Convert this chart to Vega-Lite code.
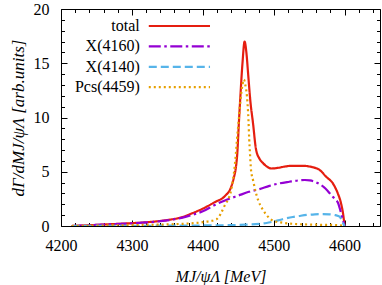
{
  "$schema": "https://vega.github.io/schema/vega-lite/v6.json",
  "width": 319,
  "height": 217,
  "autosize": {"type": "none"},
  "padding": {"left": 61, "top": 9, "right": 2, "bottom": 59},
  "background": "white",
  "config": {
    "view": {"stroke": null},
    "font": "Liberation Serif",
    "axis": {"labelFont": "Liberation Serif", "titleFont": "Liberation Serif", "labelColor": "black", "titleColor": "black", "tickColor": "black", "domainColor": "black", "grid": false, "labelFlush": false, "labelOverlap": false}
  },
  "datasets": {
    "curves": [
      {"series": "total", "m": 4215, "v": 0},
      {"series": "total", "m": 4230, "v": 0.04},
      {"series": "total", "m": 4250, "v": 0.1},
      {"series": "total", "m": 4275, "v": 0.18},
      {"series": "total", "m": 4300, "v": 0.26},
      {"series": "total", "m": 4325, "v": 0.37},
      {"series": "total", "m": 4350, "v": 0.55},
      {"series": "total", "m": 4370, "v": 0.8},
      {"series": "total", "m": 4386, "v": 1.2},
      {"series": "total", "m": 4400, "v": 1.6},
      {"series": "total", "m": 4417, "v": 2.2},
      {"series": "total", "m": 4431, "v": 2.75},
      {"series": "total", "m": 4440, "v": 3.6},
      {"series": "total", "m": 4444, "v": 4.5},
      {"series": "total", "m": 4446.5, "v": 5.3},
      {"series": "total", "m": 4448.8, "v": 6.8},
      {"series": "total", "m": 4451, "v": 9.6},
      {"series": "total", "m": 4453, "v": 11.9},
      {"series": "total", "m": 4456, "v": 15.0},
      {"series": "total", "m": 4459, "v": 17.0},
      {"series": "total", "m": 4461.5, "v": 16.0},
      {"series": "total", "m": 4464, "v": 14.0},
      {"series": "total", "m": 4467, "v": 11.6},
      {"series": "total", "m": 4471, "v": 9.4},
      {"series": "total", "m": 4475, "v": 7.1},
      {"series": "total", "m": 4480, "v": 6.2},
      {"series": "total", "m": 4485, "v": 5.8},
      {"series": "total", "m": 4490, "v": 5.5},
      {"series": "total", "m": 4497, "v": 5.3},
      {"series": "total", "m": 4505, "v": 5.35},
      {"series": "total", "m": 4515, "v": 5.47},
      {"series": "total", "m": 4525, "v": 5.55},
      {"series": "total", "m": 4540, "v": 5.55},
      {"series": "total", "m": 4555, "v": 5.42},
      {"series": "total", "m": 4565, "v": 5.16},
      {"series": "total", "m": 4574, "v": 4.54},
      {"series": "total", "m": 4583.5, "v": 3.93},
      {"series": "total", "m": 4590.5, "v": 3.0},
      {"series": "total", "m": 4595, "v": 2.1},
      {"series": "total", "m": 4598.5, "v": 0.86},
      {"series": "total", "m": 4600, "v": 0},

      {"series": "X(4160)", "m": 4215, "v": 0},
      {"series": "X(4160)", "m": 4230, "v": 0.04},
      {"series": "X(4160)", "m": 4250, "v": 0.1},
      {"series": "X(4160)", "m": 4275, "v": 0.18},
      {"series": "X(4160)", "m": 4300, "v": 0.25},
      {"series": "X(4160)", "m": 4325, "v": 0.35},
      {"series": "X(4160)", "m": 4350, "v": 0.52},
      {"series": "X(4160)", "m": 4370, "v": 0.75},
      {"series": "X(4160)", "m": 4386, "v": 1.05},
      {"series": "X(4160)", "m": 4400, "v": 1.35},
      {"series": "X(4160)", "m": 4417, "v": 1.94},
      {"series": "X(4160)", "m": 4433, "v": 2.4},
      {"series": "X(4160)", "m": 4450, "v": 2.8},
      {"series": "X(4160)", "m": 4465, "v": 3.15},
      {"series": "X(4160)", "m": 4480, "v": 3.4},
      {"series": "X(4160)", "m": 4494, "v": 3.7},
      {"series": "X(4160)", "m": 4508, "v": 3.93},
      {"series": "X(4160)", "m": 4522, "v": 4.08},
      {"series": "X(4160)", "m": 4535, "v": 4.2},
      {"series": "X(4160)", "m": 4544, "v": 4.24},
      {"series": "X(4160)", "m": 4551, "v": 4.2},
      {"series": "X(4160)", "m": 4558, "v": 4.08},
      {"series": "X(4160)", "m": 4565, "v": 3.85},
      {"series": "X(4160)", "m": 4570, "v": 3.62},
      {"series": "X(4160)", "m": 4576, "v": 3.25},
      {"series": "X(4160)", "m": 4581, "v": 2.86},
      {"series": "X(4160)", "m": 4587, "v": 2.45},
      {"series": "X(4160)", "m": 4591, "v": 2.1},
      {"series": "X(4160)", "m": 4595, "v": 1.2},
      {"series": "X(4160)", "m": 4600, "v": 0},

      {"series": "X(4140)", "m": 4215, "v": 0},
      {"series": "X(4140)", "m": 4250, "v": 0.01},
      {"series": "X(4140)", "m": 4300, "v": 0.02},
      {"series": "X(4140)", "m": 4350, "v": 0.03},
      {"series": "X(4140)", "m": 4400, "v": 0.05},
      {"series": "X(4140)", "m": 4440, "v": 0.08},
      {"series": "X(4140)", "m": 4460, "v": 0.12},
      {"series": "X(4140)", "m": 4480, "v": 0.2},
      {"series": "X(4140)", "m": 4490, "v": 0.28},
      {"series": "X(4140)", "m": 4499, "v": 0.4},
      {"series": "X(4140)", "m": 4510, "v": 0.58},
      {"series": "X(4140)", "m": 4518, "v": 0.71},
      {"series": "X(4140)", "m": 4527, "v": 0.83},
      {"series": "X(4140)", "m": 4536, "v": 0.92},
      {"series": "X(4140)", "m": 4547, "v": 1.02},
      {"series": "X(4140)", "m": 4558, "v": 1.08},
      {"series": "X(4140)", "m": 4569, "v": 1.1},
      {"series": "X(4140)", "m": 4579, "v": 1.08},
      {"series": "X(4140)", "m": 4587, "v": 1.0},
      {"series": "X(4140)", "m": 4593, "v": 0.86},
      {"series": "X(4140)", "m": 4597.5, "v": 0.3},
      {"series": "X(4140)", "m": 4600, "v": 0},

      {"series": "Pcs(4459)", "m": 4215, "v": 0},
      {"series": "Pcs(4459)", "m": 4250, "v": 0.03},
      {"series": "Pcs(4459)", "m": 4300, "v": 0.08},
      {"series": "Pcs(4459)", "m": 4350, "v": 0.15},
      {"series": "Pcs(4459)", "m": 4380, "v": 0.23},
      {"series": "Pcs(4459)", "m": 4400, "v": 0.35},
      {"series": "Pcs(4459)", "m": 4419, "v": 0.6},
      {"series": "Pcs(4459)", "m": 4431, "v": 1.9},
      {"series": "Pcs(4459)", "m": 4440, "v": 3.3},
      {"series": "Pcs(4459)", "m": 4444, "v": 4.9},
      {"series": "Pcs(4459)", "m": 4446.5, "v": 6.5},
      {"series": "Pcs(4459)", "m": 4448.3, "v": 8.0},
      {"series": "Pcs(4459)", "m": 4450.5, "v": 9.6},
      {"series": "Pcs(4459)", "m": 4453.5, "v": 11.8},
      {"series": "Pcs(4459)", "m": 4456, "v": 13.0},
      {"series": "Pcs(4459)", "m": 4458, "v": 13.5},
      {"series": "Pcs(4459)", "m": 4460, "v": 13.0},
      {"series": "Pcs(4459)", "m": 4462.4, "v": 11.9},
      {"series": "Pcs(4459)", "m": 4464.5, "v": 9.7},
      {"series": "Pcs(4459)", "m": 4465.5, "v": 8.0},
      {"series": "Pcs(4459)", "m": 4466.5, "v": 6.8},
      {"series": "Pcs(4459)", "m": 4468, "v": 5.2},
      {"series": "Pcs(4459)", "m": 4471, "v": 4.2},
      {"series": "Pcs(4459)", "m": 4474, "v": 3.3},
      {"series": "Pcs(4459)", "m": 4478, "v": 2.4},
      {"series": "Pcs(4459)", "m": 4485, "v": 1.47},
      {"series": "Pcs(4459)", "m": 4492, "v": 0.86},
      {"series": "Pcs(4459)", "m": 4499, "v": 0.49},
      {"series": "Pcs(4459)", "m": 4513, "v": 0.3},
      {"series": "Pcs(4459)", "m": 4532, "v": 0.18},
      {"series": "Pcs(4459)", "m": 4560, "v": 0.12},
      {"series": "Pcs(4459)", "m": 4590, "v": 0.08},
      {"series": "Pcs(4459)", "m": 4600, "v": 0}
    ]
  },
  "data": {"name": "curves"},
  "layer": [
    {
      "mark": {"type": "line", "strokeWidth": 2.2, "interpolate": "monotone", "clip": true},
      "encoding": {
        "x": {
          "field": "m", "type": "quantitative",
          "scale": {"domain": [4200, 4650], "nice": false, "zero": false},
          "axis": {
            "orient": "bottom",
            "values": [4200,4220,4240,4260,4280,4300,4320,4340,4360,4380,4400,4420,4440,4460,4480,4500,4520,4540,4560,4580,4600,4620,4640],
            "format": "d",
            "labelExpr": "datum.value % 100 === 0 ? datum.label : ''",
            "tickSize": {"condition": {"test": "datum.value % 100 === 0", "value": -6}, "value": -3.5},
            "labelPadding": 17,
            "labelFontSize": 16,
            "title": "MJ/ψΛ [MeV]",
            "titleFontSize": 16,
            "titleFontStyle": "italic",
            "titleFontWeight": "normal",
            "titlePadding": 13,
            "domainWidth": 1
          }
        },
        "y": {
          "field": "v", "type": "quantitative",
          "scale": {"domain": [0, 20], "nice": false},
          "axis": {
            "orient": "left",
            "values": [0,1,2,3,4,5,6,7,8,9,10,11,12,13,14,15,16,17,18,19,20],
            "labelExpr": "datum.value % 5 === 0 ? datum.label : ''",
            "tickSize": {"condition": {"test": "datum.value % 5 === 0", "value": -6}, "value": -3.5},
            "labelPadding": 18,
            "labelFontSize": 16,
            "title": "dΓ/dMJ/ψΛ [arb.units]",
            "titleFontSize": 17,
            "titleFontStyle": "italic",
            "titleFontWeight": "normal",
            "titlePadding": 6,
            "domainWidth": 1
          }
        },
        "color": {
          "field": "series", "type": "nominal",
          "scale": {"domain": ["total", "X(4160)", "X(4140)", "Pcs(4459)"], "range": ["#e51e10", "#9400d3", "#56b4e9", "#e69f00"]},
          "legend": {
            "orient": "none", "legendX": 99, "legendY": 9, "title": null,
            "symbolType": "M-5,0H5", "symbolSize": 150, "symbolStrokeWidth": 2.2, "symbolOffset": 11.4,
            "labelAlign": "right", "labelOffset": -47.6, "labelFontSize": 16, "labelFont": "Liberation Serif", "labelColor": "black",
            "rowPadding": 4.4, "padding": 0, "labelLimit": 200
          }
        },
        "strokeDash": {
          "field": "series", "type": "nominal",
          "scale": {"domain": ["total", "X(4160)", "X(4140)", "Pcs(4459)"], "range": [[1, 0], [12, 3.5, 2.5, 3.5], [8, 4], [2, 3]]},
          "legend": {
            "orient": "none", "legendX": 99, "legendY": 9, "title": null,
            "symbolType": "M-5,0H5", "symbolSize": 150, "symbolStrokeWidth": 2.2, "symbolOffset": 11.4,
            "labelAlign": "right", "labelOffset": -47.6, "labelFontSize": 16, "labelFont": "Liberation Serif", "labelColor": "black",
            "rowPadding": 4.4, "padding": 0, "labelLimit": 200
          }
        }
      }
    },
    {
      "mark": {"type": "line", "opacity": 0},
      "encoding": {
        "x": {
          "field": "m", "type": "quantitative",
          "scale": {"domain": [4200, 4650], "nice": false, "zero": false},
          "axis": {
            "orient": "top",
            "values": [4200,4220,4240,4260,4280,4300,4320,4340,4360,4380,4400,4420,4440,4460,4480,4500,4520,4540,4560,4580,4600,4620,4640],
            "labels": false,
            "tickSize": {"condition": {"test": "datum.value % 100 === 0", "value": -6}, "value": -3.5},
            "title": null,
            "domainWidth": 1
          }
        },
        "y": {
          "field": "v", "type": "quantitative",
          "scale": {"domain": [0, 20], "nice": false},
          "axis": {
            "orient": "right",
            "values": [0,1,2,3,4,5,6,7,8,9,10,11,12,13,14,15,16,17,18,19,20],
            "labels": false,
            "tickSize": {"condition": {"test": "datum.value % 5 === 0", "value": -6}, "value": -3.5},
            "title": null,
            "domainWidth": 1
          }
        }
      }
    }
  ],
  "resolve": {"scale": {"x": "independent", "y": "independent"}}
}
